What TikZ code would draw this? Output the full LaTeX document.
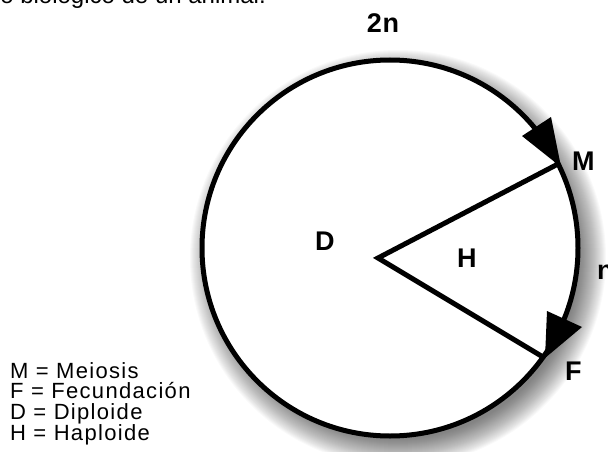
\documentclass[tikz,border=0pt]{standalone}
\usepackage{fontspec}
\setmainfont{Liberation Sans}
\newfontfamily\legendfont[LetterSpace=6]{Liberation Sans}
\newfontfamily\lblfont[LetterSpace=3]{Liberation Sans}
\begin{document}
\begin{tikzpicture}[x=1pt,y=-1pt,
  lbl/.style={font=\lblfont\bfseries\fontsize{27}{27}\selectfont, inner sep=0pt},
  legend/.style={font=\legendfont\fontsize{22}{20.5}\selectfont, align=left, inner sep=0pt, anchor=north west},
  edge/.style={line width=5pt, line cap=round, line join=miter},
  tip/.style={fill=black}]
\useasboundingbox (0,0) rectangle (608,452);
\clip (0,0) rectangle (608,452);
% top (cropped) caption
\node[font=\fontsize{24}{24}\selectfont, anchor=base east, inner sep=0pt] (cap) at (266,4) {ciclo biológico de un animal.};
% shadow
\foreach \i in {0,...,27}
  \fill[black, opacity=0.022] (398,258) circle[radius={(208-\i)*1pt}];
% cycle circle
\node[circle, draw, fill=white, line width=5pt, minimum size=376pt, inner sep=0pt] (cyc) at (390,248) {};
% points
\coordinate (V) at (378,258);
\coordinate (M) at (558,164);
\coordinate (F) at (543,357);
\draw[edge] (M) -- (V) -- (F);
% arrowheads on the circle
\coordinate (t1) at (561,167);
\coordinate (b1a) at (522,136);
\coordinate (b1b) at (551,117);
\fill[tip] (t1) -- (b1a) -- (b1b) -- cycle;
\coordinate (t2) at (545,358);
\coordinate (b2a) at (547,311);
\coordinate (b2b) at (582,327);
\fill[tip] (t2) -- (b2a) -- (b2b) -- cycle;
% labels
\node[lbl, anchor=base] (l2n) at (383,33) {2n};
\node[lbl, anchor=base west] (lM) at (572,170) {M};
\node[lbl, anchor=base west] (lF) at (565,380) {F};
\node[lbl, anchor=base west] (lD) at (315,250) {D};
\node[lbl, anchor=base west] (lH) at (457,267) {H};
\node[lbl, anchor=base west] (ln) at (597,279) {n};
% legend
\node[legend] (leg) at (10,362) {M = Meiosis\\F = Fecundación\\D = Diploide\\H = Haploide};
\end{tikzpicture}
\end{document}
